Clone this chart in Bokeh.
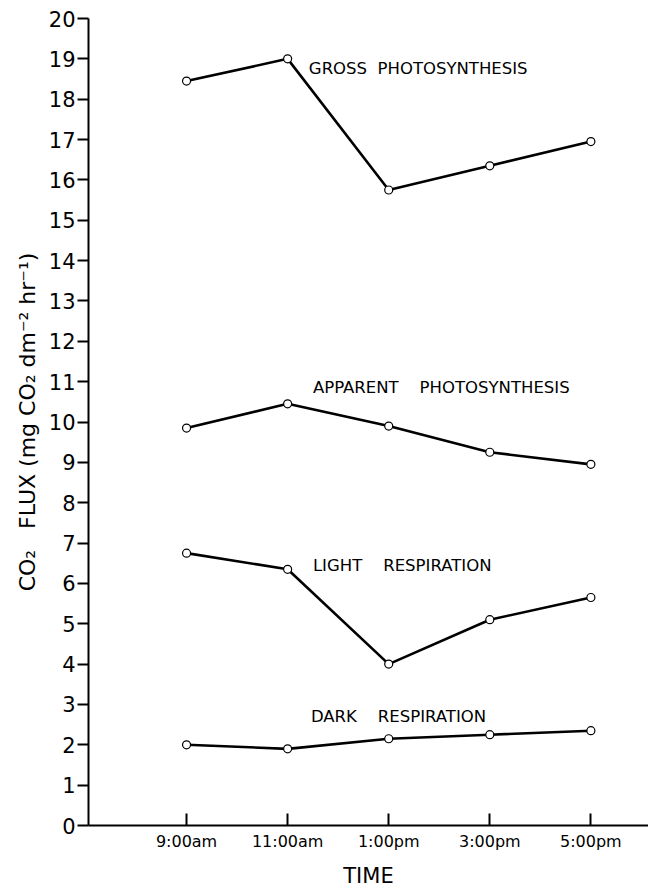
from bokeh.plotting import figure
from bokeh.models import ColumnDataSource, FixedTicker, Range1d
from bokeh.core.properties import value
from bokeh.embed import file_html
from bokeh.resources import INLINE

NB = "\u00a0"

times = ["9:00am", "11:00am", "1:00pm", "3:00pm", "5:00pm"]
gross = [18.45, 19.0, 15.75, 16.35, 16.95]
apparent = [9.85, 10.45, 9.9, 9.25, 8.95]
light = [6.75, 6.35, 4.0, 5.1, 5.65]
dark = [2.0, 1.9, 2.15, 2.25, 2.35]

labels = ["GROSS" + NB * 2 + "PHOTOSYNTHESIS",
          "APPARENT" + NB * 4 + "PHOTOSYNTHESIS",
          "LIGHT" + NB * 4 + "RESPIRATION",
          "DARK" + NB * 4 + "RESPIRATION"]
label_x = [1.21, 1.25, 1.25, 1.23]
label_y = [18.75, 10.85, 6.45, 2.7]

yticks = list(range(0, 21))

FONT = "DejaVu Sans"

p = figure(width=648, height=884, output_backend="svg", toolbar_location=None,
           x_range=Range1d(-0.97, 4.57), y_range=Range1d(0, 20),
           min_border_left=88, min_border_right=0, min_border_top=18, min_border_bottom=59)
p.frame_width = 560
p.frame_height = 807
p.outline_line_color = None
p.grid.visible = False
p.background_fill_color = "white"

xs = list(range(len(times)))
for series in [gross, apparent, light, dark]:
    src = ColumnDataSource(dict(x=xs, y=series))
    p.line("x", "y", source=src, line_color="black", line_width=2.6)
    p.scatter("x", "y", source=src, size=8, fill_color="white", line_color="black", line_width=1.2)

p.text(x=label_x, y=label_y, text=labels, text_font=value(FONT), text_font_size="16.5px",
       text_baseline="middle", text_align="left", text_color="black")

for ax in (p.xaxis, p.yaxis):
    ax.axis_line_color = "black"
    ax.major_tick_line_color = "black"
    ax.minor_tick_line_color = None
    ax.axis_line_width = 2
    ax.major_tick_line_width = 2
    ax.major_label_text_color = "black"
    ax.axis_label_text_color = "black"
    ax.major_label_text_font = FONT
    ax.axis_label_text_font = FONT
    ax.axis_label_text_font_style = "normal"

p.xaxis.ticker = FixedTicker(ticks=xs)
p.xaxis.major_label_overrides = {i: t for i, t in enumerate(times)}
p.xaxis.major_tick_in = 12
p.xaxis.major_tick_out = 0
p.xaxis.major_label_text_font_size = "16px"
p.xaxis.major_label_standoff = 6
p.xaxis.axis_label = "TIME"
p.xaxis.axis_label_text_font_size = "21px"
p.xaxis.axis_label_standoff = 10

p.yaxis.ticker = FixedTicker(ticks=yticks)
p.yaxis.major_tick_in = 0
p.yaxis.major_tick_out = 11
p.yaxis.major_label_text_font_size = "21px"
p.yaxis.major_label_standoff = 2
p.yaxis.axis_label = ("CO\u2082" + NB * 3 + "FLUX" + NB + "(mg" + NB + "CO\u2082" + NB +
                      "dm\u207b\u00b2" + NB + "hr\u207b\u00b9)")
p.yaxis.axis_label_text_font_size = "22px"
p.yaxis.axis_label_standoff = 6

open("out.html", "w").write(file_html(p, INLINE))
